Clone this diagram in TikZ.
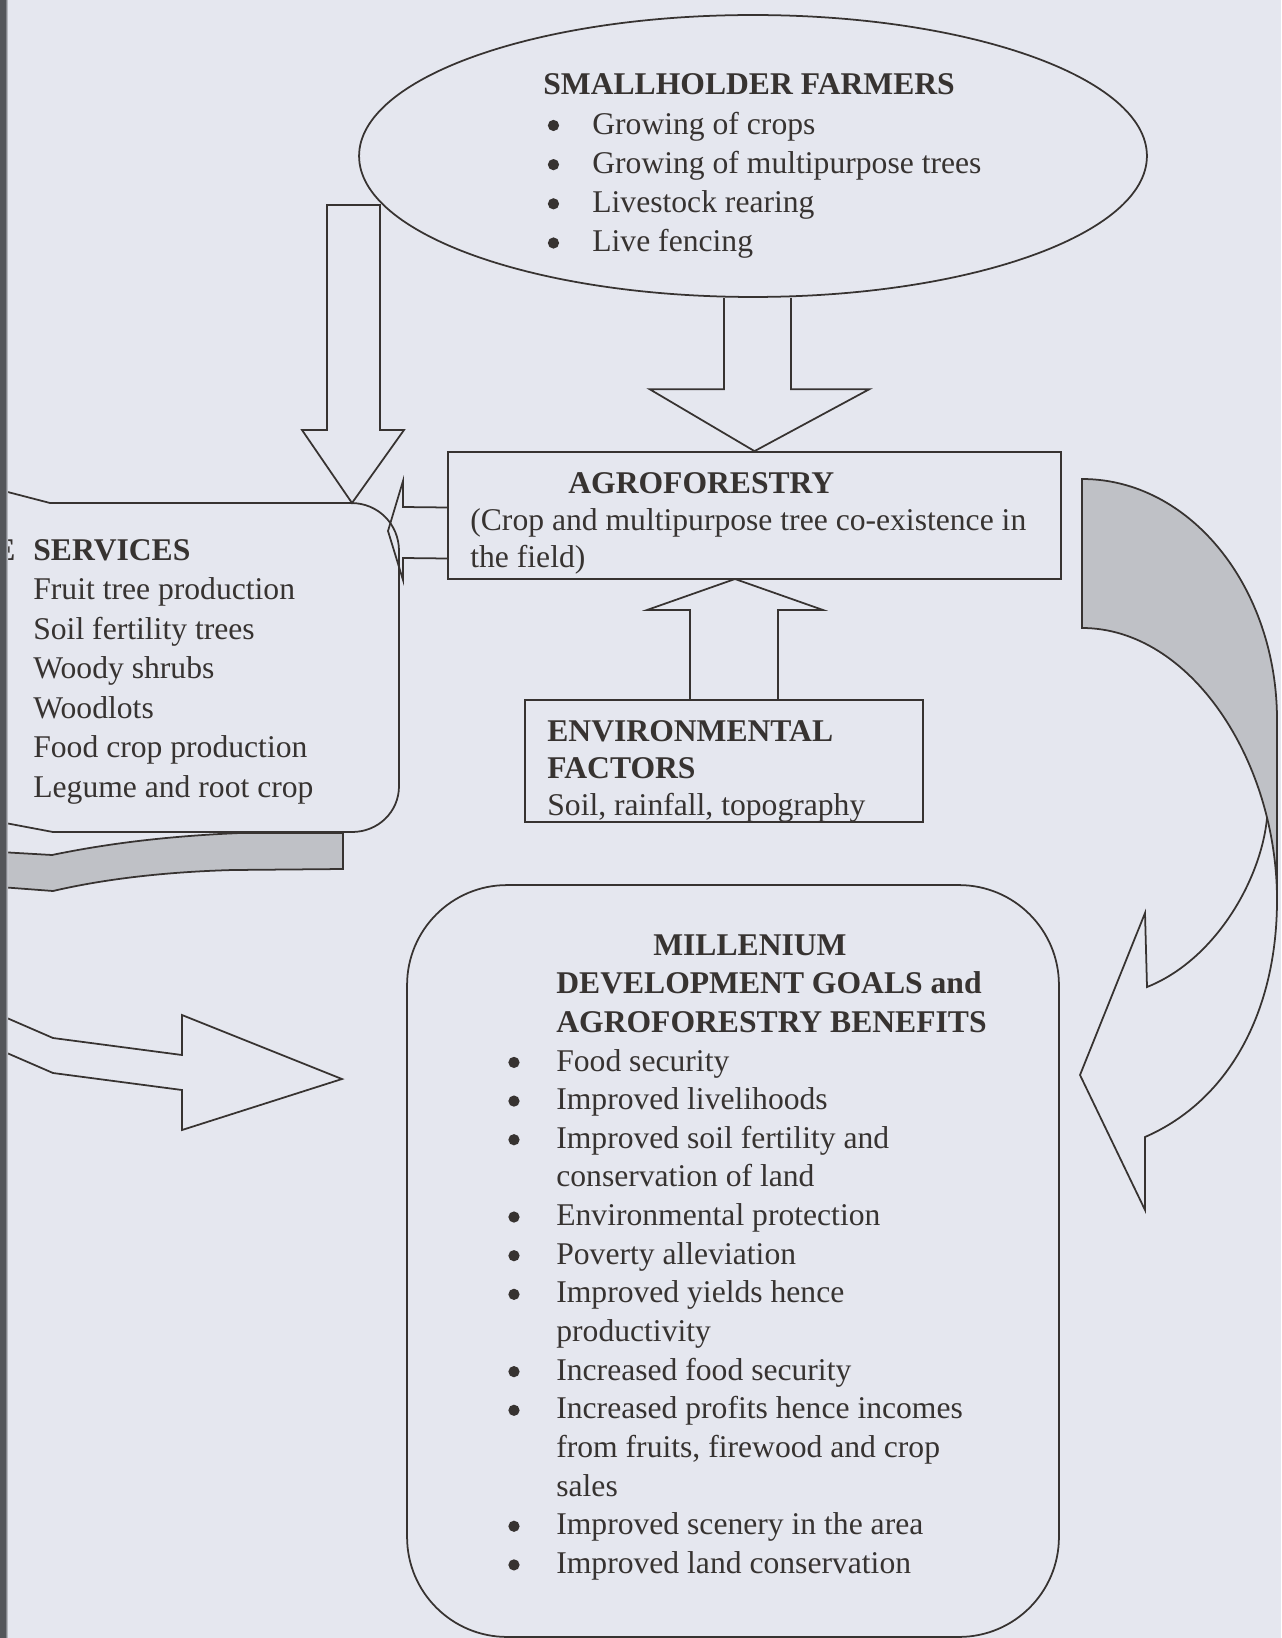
\documentclass[tikz,border=0pt]{standalone}
\usepackage{fontspec}
\setmainfont{Liberation Serif}
\usetikzlibrary{positioning, calc}
\usetikzlibrary{shapes}

\definecolor{ink}{RGB}{55,51,49}
\newcommand{\bigbul}{\tikz[baseline=0pt]\fill[ink] (0,4.9pt) circle (3.2pt);}
\newcommand{\farmbul}{\hspace*{0.09cm}\makebox[0.89cm][l]{\bigbul}}
\newcommand{\mdgbul}{\makebox[0.96cm][l]{\bigbul}}
\newcommand{\mdgind}{\hspace*{0.96cm}}

\begin{document}
\begin{tikzpicture}[x=0.02cm, y=-0.02cm]
\definecolor{paper}{RGB}{229,231,239};
\definecolor{shadegrey}{RGB}{191,193,198};
\definecolor{scanedge}{RGB}{84,86,90};
\tikzstyle{every node}=[inner sep=0pt, text=ink];
\tikzstyle{outline}=[draw=ink, line width=1pt];
\tikzstyle{blockarrow}=[draw=ink, line width=1pt, line join=miter];
\tikzstyle{listtext}=[align=left, anchor=north west, font=\fontsize{18}{22}\selectfont];
\tikzstyle{boxtext}=[align=left, anchor=north west, font=\fontsize{18}{21}\selectfont];

\fill[paper] (0,0) rectangle (1281,1638);
\useasboundingbox (0,0) rectangle (1281,1638);

% boxes
\node[ellipse, outline, minimum width=15.76cm, minimum height=5.64cm] (farmers) at (753,156) {};
\node[rectangle, outline, minimum width=12.26cm, minimum height=2.54cm] (agro) at (754.5,515.5) {};
\node[rectangle, outline, minimum width=7.96cm, minimum height=2.44cm] (env) at (724,761) {};
\node[rectangle, rounded corners=2cm, outline, minimum width=13.04cm, minimum height=15.04cm] (mdg) at (733,1261) {};

% tree services box, cut at the page edge
\draw[outline] (0,490) -- (50,503) -- (351,503) .. controls (378,503) and (399,524) .. (399,551)
  -- (399,786) .. controls (399,812) and (378,832) .. (352,832) -- (53,832) -- (0,822);
\filldraw[fill=shadegrey, outline] (0,852) -- (52,855) .. controls (110,843) and (170,836) .. (240,833)
  -- (343,833) -- (343,869) -- (233,870) .. controls (160,872) and (100,880) .. (53,891) -- (0,887);

% texts
\node[listtext, font=\fontsize{18}{22.3}\selectfont] (farmerstext) at (543,73.6) {\textbf{SMALLHOLDER FARMERS}\\
  \farmbul Growing of crops\\
  \farmbul Growing of multipurpose trees\\
  \farmbul Livestock rearing\\
  \farmbul Live fencing};
\node[boxtext] (agrotext) at (470,472.6) {\hspace*{1.96cm}\textbf{AGROFORESTRY}\\
  (Crop and multipurpose tree co-existence in\\
  the field)};
\node[boxtext] (envtext) at (547,720.6) {\textbf{ENVIRONMENTAL}\\
  \textbf{FACTORS}\\
  Soil, rainfall, topography};
\node[listtext, font=\fontsize{18}{22.5}\selectfont] (servtext) at (33,539) {\llap{\textbf{E}\hspace{0.36cm}}\textbf{SERVICES}\\
  Fruit tree production\\
  Soil fertility trees\\
  Woody shrubs\\
  Woodlots\\
  Food crop production\\
  Legume and root crop};
\node[listtext] (mdgtext) at (508,934) {\hspace*{2.9cm}\textbf{MILLENIUM}\\
  \mdgind\textbf{DEVELOPMENT GOALS and}\\
  \mdgind\textbf{AGROFORESTRY BENEFITS}\\
  \mdgbul Food security\\
  \mdgbul Improved livelihoods\\
  \mdgbul Improved soil fertility and\\
  \mdgind conservation of land\\
  \mdgbul Environmental protection\\
  \mdgbul Poverty alleviation\\
  \mdgbul Improved yields hence\\
  \mdgind productivity\\
  \mdgbul Increased food security\\
  \mdgbul Increased profits hence incomes\\
  \mdgind from fruits, firewood and crop\\
  \mdgind sales\\
  \mdgbul Improved scenery in the area\\
  \mdgbul Improved land conservation};

% block arrows
\coordinate (servin) at (352,503);
\coordinate (servside) at (388,531);
\coordinate (agrobase) at (735,579);
\coordinate (mdgin) at (342,1079);
\draw[blockarrow] ($(farmers.south)+(-29,0)$) |- ($(agro.north)+(-105,-62)$) -- (agro.north)
  -- ($(agro.north)+(115,-62)$) -| ($(farmers.south)+(38,0)$);
\draw[blockarrow] (327,205) -- (327,430) -- (302,430) -- (servin) -- (404,430) -- (380,430) -- (380,205) -- cycle;
\draw[blockarrow] ($(agro.west)+(0,-8)$) -- (403,507) -- (403,481) -- (servside) -- (403,580) -- (403,558) -- ($(agro.west)+(0,43)$);
\draw[blockarrow] ($(env.north)+(-34,0)$) |- ($(agrobase)+(-88,31)$) -- (agrobase) -- ($(agrobase)+(88,31)$) -| ($(env.north)+(54,0)$);
\draw[blockarrow] (0,1015) -- (53,1038) -- (182,1055) -- (182,1015) -- (mdgin) -- (182,1130) -- (182,1090) -- (53,1073) -- (0,1050);

% curved arrow on the right
\filldraw[fill=shadegrey, outline] (1082,479) .. controls (1190,479) and (1277,587) .. (1277,720)
  -- (1277,900) .. controls (1277,760) and (1190,628) .. (1082,628) -- cycle;
\draw[blockarrow] (1267,818) .. controls (1261,880) and (1215,960) .. (1147,987) -- (1145,913) -- (1080,1075)
  -- (1145,1210) -- (1145,1137) .. controls (1230,1100) and (1277,1010) .. (1277,900);

% scanned page edge
\fill[scanedge] (0,0) rectangle (5,1638);
\shade[left color=scanedge, right color=paper] (5,0) rectangle (8,1638);
\end{tikzpicture}
\end{document}
